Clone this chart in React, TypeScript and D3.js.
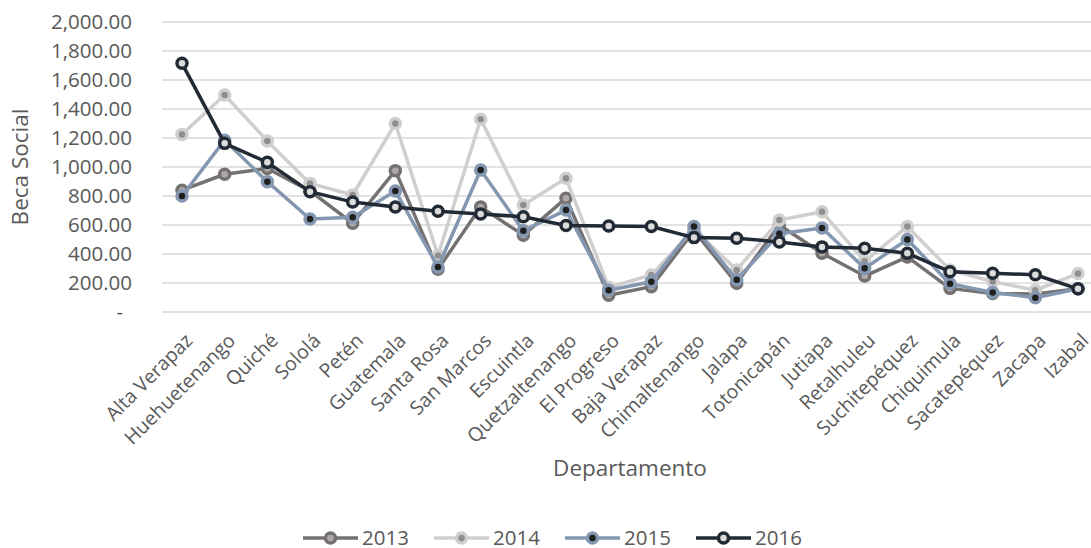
import React, { useEffect, useRef } from "react";
import * as d3 from "d3";

const categories = [
  "Alta Verapaz", "Huehuetenango", "Quiché", "Sololá", "Petén", "Guatemala",
  "Santa Rosa", "San Marcos", "Escuintla", "Quetzaltenango", "El Progreso",
  "Baja Verapaz", "Chimaltenango", "Jalapa", "Totonicapán", "Jutiapa",
  "Retalhuleu", "Suchitepéquez", "Chiquimula", "Sacatepéquez", "Zacapa", "Izabal",
];

const values2013 = [840, 950, 990, 835, 612, 975, 295, 725, 530, 785, 115, 175, 560, 198, 600, 405, 248, 380, 163, 128, 125, 160];
const values2014 = [1225, 1497, 1180, 887, 807, 1300, 390, 1330, 738, 922, 170, 255, 570, 290, 634, 691, 350, 589, 290, 210, 150, 265];
const values2015 = [800, 1185, 899, 641, 653, 835, 310, 979, 560, 703, 150, 209, 589, 222, 540, 580, 301, 500, 195, 135, 98, 160];
const values2016 = [1715, 1163, 1032, 830, 758, 724, 695, 676, 657, 597, 593, 590, 513, 509, 483, 449, 440, 405, 278, 267, 257, 160];

const seriesNames = ["2013", "2014", "2015", "2016"];
const yTicks = [0, 200, 400, 600, 800, 1000, 1200, 1400, 1600, 1800, 2000];

const W = 1091;
const H = 548;

export default function App() {
  const ref = useRef<SVGSVGElement>(null);

  useEffect(() => {
    const svg = d3.select(ref.current);
    svg.selectAll("*").remove();
    const font = "'Open Sans', sans-serif";
    const textColor = "#595959";

    const x = d3.scalePoint<string>().domain(categories).range([182, 1078]);
    const y = d3.scaleLinear().domain([0, 2000]).range([312, 22]);

    // gridlines
    svg.append("g")
      .selectAll("line")
      .data(yTicks)
      .join("line")
      .attr("x1", 162)
      .attr("x2", W)
      .attr("y1", (d) => y(d))
      .attr("y2", (d) => y(d))
      .attr("stroke", "#d9d9d9")
      .attr("stroke-width", 1.4);

    const fmt = d3.format(",.2f");
    svg.append("g")
      .selectAll("text")
      .data(yTicks)
      .join("text")
      .attr("x", (d) => (d === 0 ? 123 : 132))
      .attr("y", (d) => y(d))
      .attr("dy", "0.35em")
      .attr("text-anchor", "end")
      .attr("font-family", font)
      .attr("font-size", 20.5)
      .attr("fill", textColor)
      .text((d) => (d === 0 ? "-" : fmt(d)));

    // x labels
    svg.append("g")
      .selectAll("text")
      .data(categories)
      .join("text")
      .attr("transform", (d) => `translate(${(x(d) as number) + 7},337) rotate(-45)`)
      .attr("dy", "0.35em")
      .attr("text-anchor", "end")
      .attr("font-family", font)
      .attr("font-size", 19.5)
      .attr("fill", textColor)
      .text((d) => d);

    // axis titles
    svg.append("text")
      .attr("transform", "translate(28,167) rotate(-90)")
      .attr("text-anchor", "middle")
      .attr("font-family", font)
      .attr("font-size", 22.5)
      .attr("fill", textColor)
      .text("Beca Social");

    svg.append("text")
      .attr("x", 630)
      .attr("y", 476)
      .attr("text-anchor", "middle")
      .attr("font-family", font)
      .attr("font-size", 22.5)
      .attr("fill", textColor)
      .text("Departamento");

    const series = [
      { name: seriesNames[0], values: values2013, stroke: "#767171", fill: "#aeaaaa" },
      { name: seriesNames[1], values: values2014, stroke: "#d0cece", fill: "#8f8f8f" },
      { name: seriesNames[2], values: values2015, stroke: "#8497b0", fill: "#1f1f1f" },
      { name: seriesNames[3], values: values2016, stroke: "#222a35", fill: "#dcdcdc" },
    ];

    const line = d3.line<number>()
      .x((_, i) => x(categories[i]) as number)
      .y((d) => y(d));

    series.forEach((s) => {
      const g = svg.append("g");
      g.append("path")
        .attr("d", line(s.values))
        .attr("fill", "none")
        .attr("stroke", s.stroke)
        .attr("stroke-width", 3.5)
        .attr("stroke-linejoin", "round");
      g.selectAll("circle")
        .data(s.values)
        .join("circle")
        .attr("cx", (_, i) => x(categories[i]) as number)
        .attr("cy", (d) => y(d))
        .attr("r", 5)
        .attr("fill", s.fill)
        .attr("stroke", s.stroke)
        .attr("stroke-width", 3.5);
    });

    // legend
    const legendX = [303, 434, 565, 696];
    const leg = svg.append("g");
    series.forEach((s, i) => {
      const lx = legendX[i];
      const ly = 538;
      leg.append("line")
        .attr("x1", lx).attr("x2", lx + 55)
        .attr("y1", ly).attr("y2", ly)
        .attr("stroke", s.stroke).attr("stroke-width", 3.5);
      leg.append("circle")
        .attr("cx", lx + 27.5).attr("cy", ly).attr("r", 5)
        .attr("fill", s.fill).attr("stroke", s.stroke).attr("stroke-width", 3.5);
      leg.append("text")
        .attr("x", lx + 59).attr("y", ly)
        .attr("dy", "0.35em")
        .attr("font-family", font)
        .attr("font-size", 20.5)
        .attr("fill", textColor)
        .text(s.name);
    });
  }, []);

  return (
    <svg
      ref={ref}
      width={W}
      height={H}
      style={{ position: "absolute", left: 0, top: 0, background: "#fff" }}
    />
  );
}
